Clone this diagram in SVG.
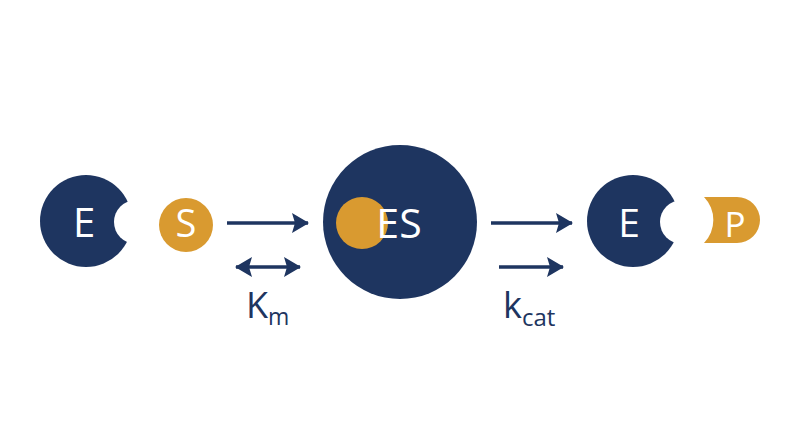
<svg xmlns="http://www.w3.org/2000/svg" width="800" height="447" viewBox="0 0 800 447">
<style>
.navy{fill:#1e3560}
.orange{fill:#d99a30}
.lbl{font-family:"Open Sans","Noto Sans",sans-serif;fill:#ffffff;text-anchor:middle}
.rate{font-family:"Open Sans","Noto Sans",sans-serif;fill:#1e3560}
.conn{stroke:#1e3560;stroke-width:3.5;fill:none}
</style>
<defs>
<marker id="ah" markerUnits="userSpaceOnUse" markerWidth="18" markerHeight="22" viewBox="0 0 18 22" refX="16" refY="11" orient="auto-start-reverse">
<path d="M0,1 L17,11 L0,21 L3,11 z" fill="#1e3560"/>
</marker>
<mask id="m1"><rect width="800" height="447" fill="#fff"/><circle cx="136" cy="222" r="22" fill="#000"/></mask>
<mask id="m2"><rect width="800" height="447" fill="#fff"/><circle cx="682" cy="222" r="22" fill="#000"/></mask>
</defs>
<rect width="800" height="447" fill="#ffffff"/>
<g id="E1">
<circle class="navy" cx="86" cy="221" r="46" mask="url(#m1)"/>
<text class="lbl" x="84" y="237" font-size="40">E</text>
</g>
<g id="S">
<circle class="orange" cx="186" cy="225" r="27"/>
<text class="lbl" x="186" y="237" font-size="38">S</text>
</g>
<g id="ES">
<circle class="navy" cx="400" cy="222" r="77"/>
<circle class="orange" cx="362" cy="223" r="26"/>
<text class="lbl" x="399" y="238" font-size="41">ES</text>
</g>
<g id="E2">
<circle class="navy" cx="633" cy="221" r="46" mask="url(#m2)"/>
<text class="lbl" x="629" y="237" font-size="39">E</text>
</g>
<g id="P">
<path class="orange" d="M704,197 L737,197 A23,23 0 0 1 737,243 L704,243 A33,33 0 0 0 704,197 z"/>
<text class="lbl" x="735" y="237" font-size="35">P</text>
</g>
<g id="connectors">
<line class="conn" x1="227" y1="223" x2="308" y2="223" marker-end="url(#ah)"/>
<line class="conn" x1="236" y1="267" x2="300" y2="267" marker-start="url(#ah)" marker-end="url(#ah)"/>
<line class="conn" x1="491" y1="223" x2="572" y2="223" marker-end="url(#ah)"/>
<line class="conn" x1="499" y1="267" x2="563" y2="267" marker-end="url(#ah)"/>
</g>
<g id="labels">
<text class="rate" x="246" y="318" font-size="36">K<tspan font-size="23" dy="7">m</tspan></text>
<text class="rate" x="503" y="318" font-size="36">k<tspan font-size="24" dy="8">cat</tspan></text>
</g>
</svg>
